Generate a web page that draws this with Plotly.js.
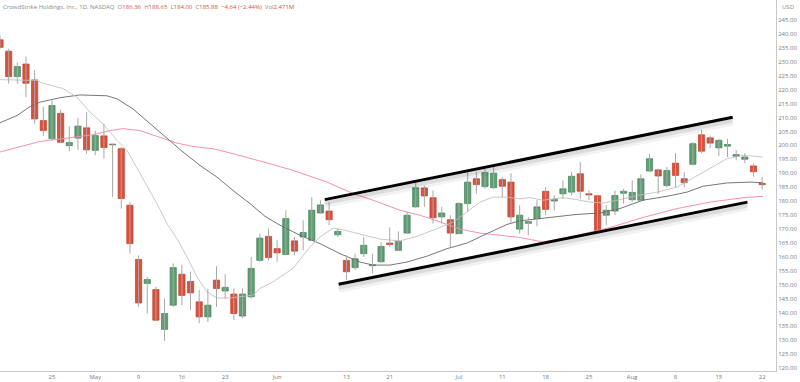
<!DOCTYPE html>
<html><head><meta charset="utf-8">
<script src="https://cdn.plot.ly/plotly-3.0.1.min.js"></script>
<style>html,body{margin:0;padding:0;background:#fff}#chart{width:800px;height:382px}</style>
</head><body><div id="chart"></div>
<script>
// Trading days (CRWD, daily)
const dates = [
 "2022-04-14","2022-04-18","2022-04-19","2022-04-20","2022-04-21","2022-04-22",
 "2022-04-25","2022-04-26","2022-04-27","2022-04-28","2022-04-29",
 "2022-05-02","2022-05-03","2022-05-04","2022-05-05","2022-05-06",
 "2022-05-09","2022-05-10","2022-05-11","2022-05-12","2022-05-13",
 "2022-05-16","2022-05-17","2022-05-18","2022-05-19","2022-05-20",
 "2022-05-23","2022-05-24","2022-05-25","2022-05-26","2022-05-27",
 "2022-05-31","2022-06-01","2022-06-02","2022-06-03",
 "2022-06-06","2022-06-07","2022-06-08","2022-06-09","2022-06-10",
 "2022-06-13","2022-06-14","2022-06-15","2022-06-16","2022-06-17",
 "2022-06-21","2022-06-22","2022-06-23","2022-06-24",
 "2022-06-27","2022-06-28","2022-06-29","2022-06-30","2022-07-01",
 "2022-07-05","2022-07-06","2022-07-07","2022-07-08",
 "2022-07-11","2022-07-12","2022-07-13","2022-07-14","2022-07-15",
 "2022-07-18","2022-07-19","2022-07-20","2022-07-21","2022-07-22",
 "2022-07-25","2022-07-26","2022-07-27","2022-07-28","2022-07-29",
 "2022-08-01","2022-08-02","2022-08-03","2022-08-04","2022-08-05",
 "2022-08-08","2022-08-09","2022-08-10","2022-08-11","2022-08-12",
 "2022-08-15","2022-08-16","2022-08-17","2022-08-18","2022-08-19",
 "2022-08-22"];

const opens = [237.9,233.8,224.7,229.2,223.5,208.9,202.4,211.5,199.9,202.6,206.3,198.2,203.4,200.2,198.8,178.5,159.0,150.4,148.2,133.9,
 142.6,153.7,151.1,143.8,138.4,151.6,147.7,146.6,138.7,145.6,158.7,167.3,162.9,160.8,165.7,167.1,165.9,175.7,176.4,167.9,
 158.7,156.1,161.1,156.8,158.2,164.9,162.3,168.5,177.9,184.7,181.2,174.3,173.3,168.3,179.1,188.0,185.2,184.8,187.7,186.8,
 169.9,172.0,173.7,183.5,180.0,182.6,183.2,189.8,182.6,181.9,174.9,176.4,182.8,180.5,180.3,190.8,191.2,185.6,193.6,188.0,
 193.2,203.8,202.7,199.1,199.7,196.1,195.0,192.6,186.36];
const highs = [239.4,234.7,229.8,231.9,227.1,213.9,216.1,212.8,206.8,209.9,211.9,205.3,207.7,200.6,199.4,179.6,160.5,152.8,149.2,145.0,
 157.6,157.2,154.6,148.2,148.6,156.6,153.7,148.6,148.6,159.9,168.3,170.1,165.9,176.7,167.1,173.1,181.4,180.3,179.6,170.1,
 160.5,161.1,167.1,161.1,165.3,170.5,169.1,176.1,187.2,185.6,183.8,177.9,174.9,179.6,190.4,190.4,191.6,192.8,188.6,190.0,
 178.5,174.3,180.3,185.0,182.0,187.4,190.4,194.0,183.8,182.3,178.5,183.8,184.4,187.4,189.6,197.0,191.6,192.2,197.2,190.4,
 201.2,205.6,203.5,202.4,202.4,198.2,197.2,193.4,188.65];
const lows = [234.7,222.2,222.1,217.3,207.7,203.5,201.8,201.0,197.9,198.4,197.0,196.4,195.2,181.4,177.3,161.1,142.0,139.6,137.0,129.8,
 142.0,142.6,140.8,136.1,136.6,142.0,145.0,137.2,137.9,145.0,158.1,158.7,158.2,160.5,160.5,162.3,165.7,175.5,171.3,167.1,
 151.6,155.2,159.9,154.0,157.8,163.5,162.0,168.3,177.6,177.9,171.9,171.9,163.5,168.1,176.1,182.6,184.4,184.4,181.4,172.2,
 168.3,167.7,170.9,174.9,176.7,180.8,182.0,180.8,180.3,168.5,171.3,174.9,179.1,179.7,179.7,190.4,182.6,184.8,185.0,185.0,
 192.8,197.2,199.0,196.1,195.8,194.6,193.6,188.8,184.00];
const closes = [235.2,224.7,228.3,222.3,209.5,205.3,214.3,201.1,201.0,206.9,198.4,203.5,199.2,200.4,180.9,164.7,143.4,151.8,137.2,139.6,
 156.1,146.1,147.0,138.4,142.6,148.6,149.0,139.6,146.6,155.8,166.7,159.7,161.4,173.7,162.0,168.7,176.7,178.6,173.3,169.1,
 154.6,159.3,164.1,157.1,163.7,164.4,165.5,174.9,184.8,181.8,174.0,175.7,168.5,179.1,186.8,185.9,190.2,190.0,185.3,174.3,
 174.9,172.6,177.9,177.0,180.6,184.4,188.9,183.5,182.2,168.9,176.7,182.0,183.5,183.1,188.0,195.2,189.0,191.0,189.2,186.6,
 200.6,197.9,200.8,201.8,200.3,196.7,195.8,190.52,185.88];

// Moving averages (day position, price)
const maFastX = [0,4.27,4.96,7.27,8.89,10.39,11.89,13.51,14.66,15.82,16.97,18.12,19.28,20.43,21.59,22.74,23.9,25.05,26.55,27.71,29.21,30.02,31.52,33.83,35.79,36.95,38.45,39.83,41.57,43.88,46.18,48.15,50.46,52.3,53.92,55.42,56.92,58.54,60.04,61.2,62.7,65.01,66.62,68.12,69.63,71.59,73.55,75.86,78.17,79.67,81.98,83.94,85.79,88.1];
const maFastY = [223.6,223.3,222.3,220.4,217.3,211.9,207.7,201.8,198.2,191.7,185.6,179.1,171.9,166.5,159.9,152.8,147.4,145.2,145.2,145.6,146.2,148.6,151.0,155.8,163.5,167.1,170.3,169.5,168.1,166.3,165.7,167.3,170.1,172.4,176.1,179.6,181.4,181.4,180.8,181.2,180.3,181.2,180.5,179.6,179.3,180.5,182.0,183.2,185.0,187.7,191.6,195.2,196.4,195.8];
const maMidX = [0,1.96,3.46,4.61,6.92,9.23,12.35,13.51,15.35,17.32,19.28,21.13,23.09,25.05,26.9,28.86,30.6,32.33,34.64,36.95,39.26,41.57,43.07,45.03,46.99,49.3,51.61,53.92,56.23,58.54,60.04,61.2,63.51,66.62,69.28,71.59,74.24,77.01,79.32,81.17,83.94,86.6,88.1];
const maMidY = [208.1,210.7,213.9,215.5,217.1,218.1,217.8,216.7,213.1,207.7,202.4,197.6,192.8,188.6,183.8,179.1,174.5,171.3,167.7,164.7,161.1,158.1,157.0,157.0,158.1,160.2,162.9,164.9,168.3,171.6,172.9,173.3,174.1,175.2,175.7,177.3,180.3,181.7,183.2,185.3,186.5,186.8,186.6];
const maSlowX = [0,2.31,4.61,7.73,10.73,12.7,14.2,16.16,18.47,20.43,22.28,24.59,26.9,29.21,31.17,33.83,37.76,40.76,43.07,46.18,48.49,50.8,53.11,55.42,57.73,60.04,62.7,66.62,70.43,74.24,78.17,81.98,85.79,88.1];
const maSlowY = [197.6,199.6,201.4,202.6,203.8,205.3,206.0,205.3,202.9,200.8,199.6,198.8,197.0,195.2,193.4,191.0,186.8,182.7,180.3,176.7,174.9,172.5,169.9,168.5,167.7,166.9,165.3,167.7,170.5,174.1,177.3,179.6,181.2,181.7];

// Hand-drawn channel lines (day position, price)
const channelUpX = [37.5, 84.6];
const channelUpY = [180.5, 210.1];
const channelLowX = [39.1, 86.3];
const channelLowY = [150.1, 179.6];

// Axis labels
const tickDates = ["2022-04-25","2022-05-02","2022-05-09","2022-05-16","2022-05-23","2022-06-01","2022-06-13","2022-06-21","2022-07-01","2022-07-11","2022-07-18","2022-07-25","2022-08-01","2022-08-08","2022-08-15","2022-08-22"];
const tickText = ["25","May","9","16","23","Jun","13","21","Jul","11","18","25","Aug","8","15","22"];
const priceTicks = [120,125,130,135,140,145,150,155,160,165,170,175,180,185,190,195,200,205,210,215,220,225,230,235,240,245];

const UP = '#5f9f74', UPB = '#437f57', DN = '#df4f3b', DNB = '#ba3d2c';
const xs = dates.map((d, i) => i);
const wickX = [], wickY = [];
xs.forEach((x, i) => { wickX.push(x, x, null); wickY.push(lows[i], highs[i], null); });
const up = closes.map((c, i) => c >= opens[i]);
const base = closes.map((c, i) => Math.min(c, opens[i]));
const hgt = closes.map((c, i) => Math.max(Math.abs(c - opens[i]), 0.25));

const pxPerUnit = 371 / (252.2 - 118.96);
const shadow = (xArr, yArr, off, w, a) => ({x: xArr, y: yArr.map(v => v - off / pxPerUnit), type: 'scatter', mode: 'lines',
  line: {color: 'rgba(0,0,0,' + a + ')', width: w}, hoverinfo: 'skip'});

const traces = [
  {x: maSlowX, y: maSlowY, type: 'scatter', mode: 'lines', line: {color: '#f592ad', width: 1}, hoverinfo: 'skip'},
  {x: maMidX, y: maMidY, type: 'scatter', mode: 'lines', line: {color: '#666666', width: 0.9}, hoverinfo: 'skip'},
  {x: maFastX, y: maFastY, type: 'scatter', mode: 'lines', line: {color: '#c2c2c2', width: 0.9}, hoverinfo: 'skip'},
  {x: wickX, y: wickY, type: 'scatter', mode: 'lines', line: {color: '#a8a8a8', width: 1}, hoverinfo: 'skip'},
  {x: xs, y: hgt, base: base, type: 'bar', width: 0.72,
   marker: {color: up.map(u => u ? UP : DN), line: {color: up.map(u => u ? UPB : DNB), width: 0.7}}, hoverinfo: 'skip'},
  shadow(channelUpX, channelUpY, 5, 7, 0.05), shadow(channelUpX, channelUpY, 3.5, 4, 0.09),
  shadow(channelLowX, channelLowY, 5, 7, 0.05), shadow(channelLowX, channelLowY, 3.5, 4, 0.09),
  {x: channelUpX, y: channelUpY, type: 'scatter', mode: 'lines', line: {color: '#000', width: 3}, hoverinfo: 'skip'},
  {x: channelLowX, y: channelLowY, type: 'scatter', mode: 'lines', line: {color: '#000', width: 3}, hoverinfo: 'skip'}
];

const R = (s) => '<span style="color:#d9503c">' + s + '</span>';
const titleText = 'CrowdStrike Holdings, Inc., 1D, NASDAQ  O' + R('186.36') + '  H' + R('188.65') + '  L' + R('184.00') +
  '  C' + R('185.88') + '  ' + R('\u22124.64 (\u22122.44%)') + '  Vol' + R('2.471M');

const layout = {
  width: 800, height: 382,
  margin: {l: 0, r: 24, t: 0, b: 11, pad: 0},
  paper_bgcolor: '#fff', plot_bgcolor: '#fff',
  showlegend: false, bargap: 0,
  font: {family: 'Open Sans, Liberation Sans, sans-serif', color: '#7a7a7a'},
  xaxis: {range: [0, 89.6], tickvals: tickDates.map(d => dates.indexOf(d)), ticktext: tickText,
    showgrid: false, zeroline: false, showline: true, linecolor: '#c8c8c8', linewidth: 1, ticks: '',
    tickfont: {size: 6, color: '#7a7a7a'}, automargin: false, fixedrange: true},
  yaxis: {range: [118.96, 252.2], side: 'right', tickvals: priceTicks, tickformat: '.2f',
    showgrid: false, zeroline: false, showline: true, linecolor: '#c8c8c8', linewidth: 1, ticks: '',
    tickfont: {size: 6, color: '#7a7a7a'}, automargin: false, fixedrange: true},
  annotations: [
    {xref: 'paper', yref: 'paper', x: 0, y: 1, xanchor: 'left', yanchor: 'top', xshift: 1, yshift: -1,
     text: titleText, showarrow: false, font: {size: 6, color: '#8a8a8a'}},
    {xref: 'paper', yref: 'paper', x: 1, y: 1, xanchor: 'left', yanchor: 'top', xshift: 4, yshift: -1,
     text: 'USD', showarrow: false, font: {size: 6, color: '#8a8a8a'}}
  ]
};

Plotly.newPlot('chart', traces, layout, {staticPlot: true, displayModeBar: false});
</script>
</body></html>
